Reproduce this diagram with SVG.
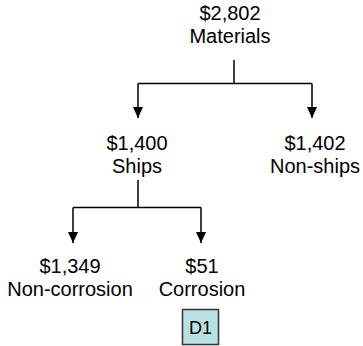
<svg xmlns="http://www.w3.org/2000/svg" width="363" height="346" viewBox="0 0 363 346">
<defs>
<marker id="arr" viewBox="0 0 11 10" refX="11" refY="5" markerWidth="11" markerHeight="10" markerUnits="userSpaceOnUse" orient="auto">
<path d="M0,0 L11,5 L0,10 Z" fill="#000"/>
</marker>
</defs>
<style>
text{font-family:"Liberation Sans",Arial,sans-serif;font-size:20px;fill:#000;text-anchor:middle}
.c{fill:none;stroke:#000;stroke-width:1.5}
.box{fill:#b9e1e3;stroke:#333;stroke-width:1.5}
</style>
<g id="connectors">
<path class="c" d="M234,60 V83.5 M138,83.5 H312"/>
<path class="c" d="M138,83.5 V118" marker-end="url(#arr)"/>
<path class="c" d="M312,83.5 V118" marker-end="url(#arr)"/>
<path class="c" d="M138,180 V207.5 M73,207.5 H201"/>
<path class="c" d="M73,207.5 V243" marker-end="url(#arr)"/>
<path class="c" d="M201,207.5 V243" marker-end="url(#arr)"/>
</g>
<g id="materials"><text x="230" y="20">$2,802</text><text x="230" y="43">Materials</text></g>
<g id="ships"><text x="137" y="150">$1,400</text><text x="137" y="173">Ships</text></g>
<g id="nonships"><text x="315" y="150">$1,402</text><text x="315" y="173">Non-ships</text></g>
<g id="noncorrosion"><text x="70" y="273">$1,349</text><text x="70" y="296">Non-corrosion</text></g>
<g id="corrosion"><text x="202" y="273">$51</text><text x="202" y="296">Corrosion</text></g>
<g id="d1"><rect class="box" x="182.5" y="309.5" width="36" height="35"/><text x="200.5" y="334" style="font-size:18px">D1</text></g>
</svg>
